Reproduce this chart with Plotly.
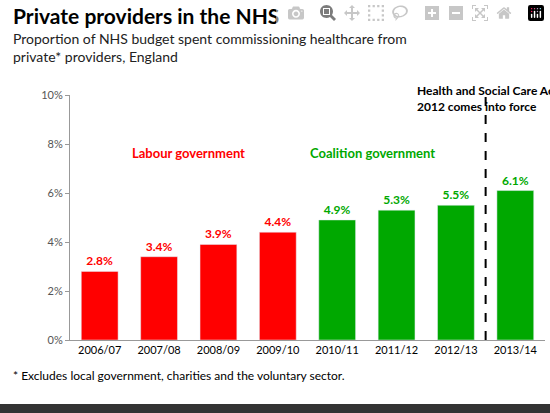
import plotly.graph_objects as go

years = ["2006/07", "2007/08", "2008/09", "2009/10", "2010/11", "2011/12", "2012/13", "2013/14"]
share = [2.8, 3.4, 3.9, 4.4, 4.9, 5.3, 5.5, 6.1]
govt = ["Labour"] * 4 + ["Coalition"] * 4
yticks = [0, 2, 4, 6, 8, 10]

RED = "#ff0000"
GREEN = "#00a800"
colours = [RED if g == "Labour" else GREEN for g in govt]

fig = go.Figure()
fig.add_trace(go.Bar(
    x=list(range(len(years))), y=share, width=0.62,
    marker_color=colours,
    text=[f"<b>{v:.1f}%</b>" for v in share], textposition="outside",
    textfont=dict(color=colours, size=12, family="Lato"),
    cliponaxis=False,
))

fig.add_shape(type="line", x0=6.5, x1=6.5, y0=0, y1=11.2, xref="x", yref="y",
              line=dict(color="black", width=2, dash="dash"))

fig.add_annotation(x=1.5, y=7.65, text="<b>Labour government</b>", showarrow=False,
                   font=dict(color=RED, size=13))
fig.add_annotation(x=4.6, y=7.65, text="<b>Coalition government</b>", showarrow=False,
                   font=dict(color=GREEN, size=13))
fig.add_annotation(xref="paper", yref="paper", x=0.88, y=1.058,
                   text="<b>Health and Social Care Act<br>2012 comes into force</b>",
                   showarrow=False, xanchor="center", align="left",
                   font=dict(color="black", size=12))

fig.add_annotation(xref="paper", yref="paper", x=-0.125, y=1.385, xanchor="left",
                   text="<b>Private providers in the NHS</b>", showarrow=False,
                   font=dict(size=21, color="black"))
fig.add_annotation(xref="paper", yref="paper", x=-0.125, y=1.275, xanchor="left", yanchor="top",
                   align="left", showarrow=False,
                   text="Proportion of NHS budget spent commissioning healthcare from<br>private* providers, England",
                   font=dict(size=14, color="#222"))
fig.add_annotation(xref="paper", yref="paper", x=-0.125, y=-0.184, xanchor="left",
                   text="* Excludes local government, charities and the voluntary sector.",
                   showarrow=False, font=dict(size=12, color="black"))
fig.add_shape(type="rect", xref="paper", yref="paper", x0=-0.2, x1=1.1, y0=-0.261, y1=-0.31,
              fillcolor="#333", line_width=0)

fig.update_layout(
    width=550, height=413, margin=dict(l=70, r=5, t=95, b=73),
    paper_bgcolor="white", plot_bgcolor="white",
    font=dict(family="Lato", color="black"),
    showlegend=False, bargap=0.3,
    xaxis=dict(tickvals=list(range(len(years))), ticktext=years, range=[-0.5, 7.5],
               showline=True, linecolor="#999", ticks="", tickfont=dict(size=11)),
    yaxis=dict(range=[0, 10], tickvals=yticks, ticktext=[f"{t}%" for t in yticks],
               showgrid=False, showline=True, linecolor="#999", ticks="outside",
               ticklen=4, tickcolor="#999", tickfont=dict(size=11, color="#555")),
)
fig.write_html("out.html", post_script="document.body.style.margin='0';")
